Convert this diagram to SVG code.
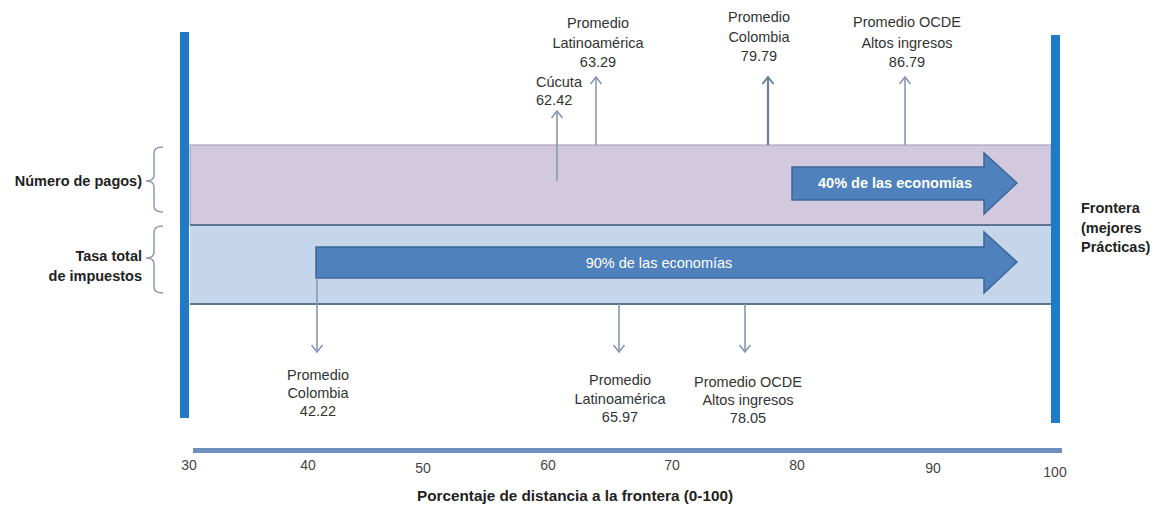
<svg xmlns="http://www.w3.org/2000/svg" width="1167" height="508" viewBox="0 0 1167 508">
<style>
text{font-family:"Liberation Sans",Arial,sans-serif;fill:#333;font-size:14.5px}
.c{text-anchor:middle}
.r{text-anchor:end}
.b{font-weight:bold;fill:#222}
.w{fill:#fff}
.tick{font-size:14px;fill:#444;text-anchor:middle}
.va{stroke:#8797B3;stroke-width:1.6;fill:none}
.vd{stroke:#6A7E9E;stroke-width:2.2;fill:none}
.brace{stroke:#8D99AC;stroke-width:1.5;fill:none}
.big{fill:#4F81BD;stroke:#3D6797;stroke-width:1.5}
</style>
<defs>
<marker id="chev" markerUnits="userSpaceOnUse" markerWidth="14" markerHeight="14" viewBox="0 0 14 14" refX="12" refY="7" orient="auto">
<path d="M5,1.5 L12,7 L5,12.5" fill="none" stroke="#8797B3" stroke-width="1.6"/>
</marker>
<marker id="chevd" markerUnits="userSpaceOnUse" markerWidth="14" markerHeight="14" viewBox="0 0 14 14" refX="12" refY="7" orient="auto">
<path d="M5,1.5 L12,7 L5,12.5" fill="none" stroke="#6A7E9E" stroke-width="2"/>
</marker>
</defs>

<g id="bands">
<rect x="190" y="145" width="861" height="80" fill="#D3C9DE" stroke="#9A9AAE" stroke-width="1"/>
<rect x="190" y="225" width="861" height="79" fill="#C5D6EB"/>
<line x1="190" y1="225" x2="1051" y2="225" stroke="#5C7595" stroke-width="2"/>
<line x1="190" y1="304" x2="1051" y2="304" stroke="#5C7595" stroke-width="2"/>
</g>

<g id="bar-left"><rect x="180" y="32" width="9" height="386" fill="#1F7BC6"/></g>
<g id="bar-right"><rect x="1051" y="35" width="9" height="388" fill="#1F7BC6"/></g>

<g id="arrow-40">
<path class="big" d="M792,167 L984,167 L984,153 L1017,183 L984,214 L984,200 L792,200 Z"/>
<text class="c b w" x="895" y="188" style="fill:#fff">40% de las economías</text>
</g>
<g id="arrow-90">
<path class="big" d="M316,247 L984,247 L984,232 L1017,262 L984,293 L984,278 L316,278 Z"/>
<text class="c w" x="659" y="268">90% de las economías</text>
</g>

<g id="connectors">
<line class="va" x1="557" y1="181" x2="557" y2="111" marker-end="url(#chev)"/>
<line class="va" x1="596" y1="145" x2="596" y2="77" marker-end="url(#chev)"/>
<line class="vd" x1="768" y1="145" x2="768" y2="77" marker-end="url(#chevd)"/>
<line class="va" x1="905" y1="145" x2="905" y2="77" marker-end="url(#chev)"/>
<line class="va" x1="317" y1="278" x2="317" y2="352" marker-end="url(#chev)"/>
<line class="va" x1="619" y1="304" x2="619" y2="352" marker-end="url(#chev)"/>
<line class="va" x1="745" y1="304" x2="745" y2="352" marker-end="url(#chev)"/>
<path class="brace" d="M163,147 Q154,147 154,153 L154,175 Q154,181 146,181 Q154,181 154,187 L154,206 Q154,212 163,212"/>
<path class="brace" d="M163,226 Q154,226 154,232 L154,252 Q154,258 146,258 Q154,258 154,264 L154,287 Q154,293 163,293"/>
</g>

<g id="label-latam-top">
<text class="c" x="598" y="28">Promedio</text>
<text class="c" x="598" y="48">Latinoamérica</text>
<text class="c" x="598" y="67">63.29</text>
</g>
<g id="label-cucuta">
<text x="536" y="87">Cúcuta</text>
<text x="536" y="105">62.42</text>
</g>
<g id="label-colombia-top">
<text class="c" x="759" y="22">Promedio</text>
<text class="c" x="759" y="42">Colombia</text>
<text class="c" x="759" y="61">79.79</text>
</g>
<g id="label-ocde-top">
<text class="c" x="907" y="27">Promedio OCDE</text>
<text class="c" x="907" y="48">Altos ingresos</text>
<text class="c" x="907" y="67">86.79</text>
</g>

<g id="label-colombia-bottom">
<text class="c" x="318" y="380">Promedio</text>
<text class="c" x="318" y="398">Colombia</text>
<text class="c" x="318" y="416">42.22</text>
</g>
<g id="label-latam-bottom">
<text class="c" x="620" y="385">Promedio</text>
<text class="c" x="620" y="404">Latinoamérica</text>
<text class="c" x="620" y="422">65.97</text>
</g>
<g id="label-ocde-bottom">
<text class="c" x="748" y="387">Promedio OCDE</text>
<text class="c" x="748" y="405">Altos ingresos</text>
<text class="c" x="748" y="423">78.05</text>
</g>

<g id="label-pagos"><text class="r b" x="142" y="186">Número de pagos)</text></g>
<g id="label-tasa">
<text class="r b" x="142" y="261">Tasa total</text>
<text class="r b" x="142" y="281">de impuestos</text>
</g>
<g id="label-frontera">
<text class="b" x="1081" y="213">Frontera</text>
<text class="b" x="1081" y="233">(mejores</text>
<text class="b" x="1081" y="252">Prácticas)</text>
</g>

<g id="axis">
<rect x="193" y="448" width="869" height="5" fill="#6F8FBE"/>
<text class="tick" x="189" y="470">30</text>
<text class="tick" x="308" y="470">40</text>
<text class="tick" x="423" y="473">50</text>
<text class="tick" x="548" y="470">60</text>
<text class="tick" x="672" y="470">70</text>
<text class="tick" x="797" y="470">80</text>
<text class="tick" x="933" y="473">90</text>
<text class="tick" x="1055" y="477">100</text>
<text class="b" x="417" y="501" textLength="316" lengthAdjust="spacingAndGlyphs" style="font-size:14px">Porcentaje de distancia a la frontera (0-100)</text>
</g>
</svg>
